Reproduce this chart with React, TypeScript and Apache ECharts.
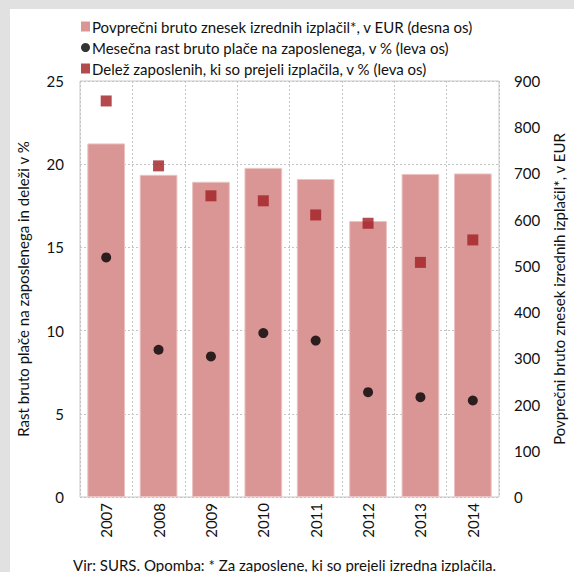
import React, { useEffect, useRef } from "react";
import * as echarts from "echarts";

const categories = ["2007", "2008", "2009", "2010", "2011", "2012", "2013", "2014"];
const avgPayout = [765, 697, 682, 712, 688, 597, 699, 700];
const wageGrowth = [14.4, 8.85, 8.45, 9.85, 9.4, 6.3, 6.0, 5.8];
const shareEmployees = [23.8, 19.9, 18.1, 17.8, 16.95, 16.45, 14.1, 15.45];

const nameBar = "Povprečni bruto znesek izrednih izplačil*, v EUR (desna os)";
const nameDots = "Mesečna rast bruto plače na zaposlenega, v % (leva os)";
const nameSquares = "Delež zaposlenih, ki so prejeli izplačila, v % (leva os)";
const leftTitle = "Rast bruto plače na zaposlenega in deleži v %";
const rightTitle = "Povprečni bruto znesek izrednih izplačil*, v EUR";
const footer = "Vir: SURS. Opomba: * Za zaposlene, ki so prejeli izredna izplačila.";

const FONT = "Lato";

export default function App() {
  const ref = useRef<HTMLDivElement>(null);
  useEffect(() => {
    if (!ref.current) return;
    const chart = echarts.init(ref.current, undefined, { renderer: "svg" });
    const txt = { fontFamily: FONT, fontSize: 15, color: "#111" };
    chart.setOption({
      animation: false,
      backgroundColor: "transparent",
      textStyle: { fontFamily: FONT },
      legend: {
        orient: "vertical",
        left: 76,
        top: 11,
        itemWidth: 9,
        itemHeight: 10,
        itemGap: 0,
        itemStyle: { borderWidth: 0 },
        textStyle: { ...txt, lineHeight: 21, padding: [0, 0, 0, -3] },
        data: [
          { name: nameBar, icon: "rect" },
          { name: nameDots, icon: "circle" },
          { name: nameSquares, icon: "rect" },
        ],
      },
      grid: {
        left: 80,
        right: 68,
        top: 81,
        bottom: 75,
        show: true,
        borderColor: "#c8c8c8",
        borderWidth: 1,
        backgroundColor: "transparent",
      },
      xAxis: {
        type: "category",
        data: categories,
        axisLine: { show: false },
        axisTick: { show: false },
        axisLabel: { ...txt, rotate: 90, margin: 6 },
        splitLine: { show: true, lineStyle: { color: "#c4c4c4", type: [2, 2], width: 1 } },
      },
      yAxis: [
        {
          type: "value",
          min: 0,
          max: 25,
          interval: 5,
          position: "left",
          name: leftTitle,
          nameLocation: "middle",
          nameRotate: 90,
          nameGap: 50,
          nameTextStyle: txt,
          axisLine: { show: false },
          axisTick: { show: false },
          axisLabel: { ...txt, margin: 16 },
          splitLine: { show: true, lineStyle: { color: "#c4c4c4", type: [2, 2], width: 1 } },
        },
        {
          type: "value",
          min: 0,
          max: 900,
          interval: 100,
          position: "right",
          name: rightTitle,
          nameLocation: "middle",
          nameRotate: 90,
          nameGap: 49,
          nameTextStyle: txt,
          axisLine: { show: false },
          axisTick: { show: false },
          axisLabel: { ...txt, margin: 15 },
          splitLine: { show: false },
        },
      ],
      series: [
        {
          name: nameBar,
          type: "bar",
          yAxisIndex: 1,
          data: avgPayout,
          barWidth: "72%",
          itemStyle: { color: "#d99694", borderColor: "#ecc3c2", borderWidth: 1 },
          z: 2,
        },
        {
          name: nameDots,
          type: "scatter",
          yAxisIndex: 0,
          data: wageGrowth,
          symbol: "circle",
          symbolSize: 10,
          itemStyle: { color: "#000" },
          z: 3,
        },
        {
          name: nameSquares,
          type: "scatter",
          yAxisIndex: 0,
          data: shareEmployees,
          symbol: "rect",
          symbolSize: 11,
          itemStyle: { color: "#a01e22" },
          z: 3,
        },
      ],
      graphic: [
        {
          type: "text",
          left: 73,
          top: 557,
          style: { text: footer, font: `15px ${FONT}`, fill: "#111" },
        },
      ],
    });
    return () => chart.dispose();
  }, []);

  return (
    <div style={{ position: "absolute", left: 0, top: 0, width: 574, height: 572, background: "#e1e1e1", overflow: "hidden" }}>
      <div style={{ position: "absolute", left: 10, top: 9, width: 564, height: 563, background: "#fff" }} />
      <div ref={ref} style={{ position: "absolute", left: 0, top: 0, width: 574, height: 572 }} />
    </div>
  );
}
